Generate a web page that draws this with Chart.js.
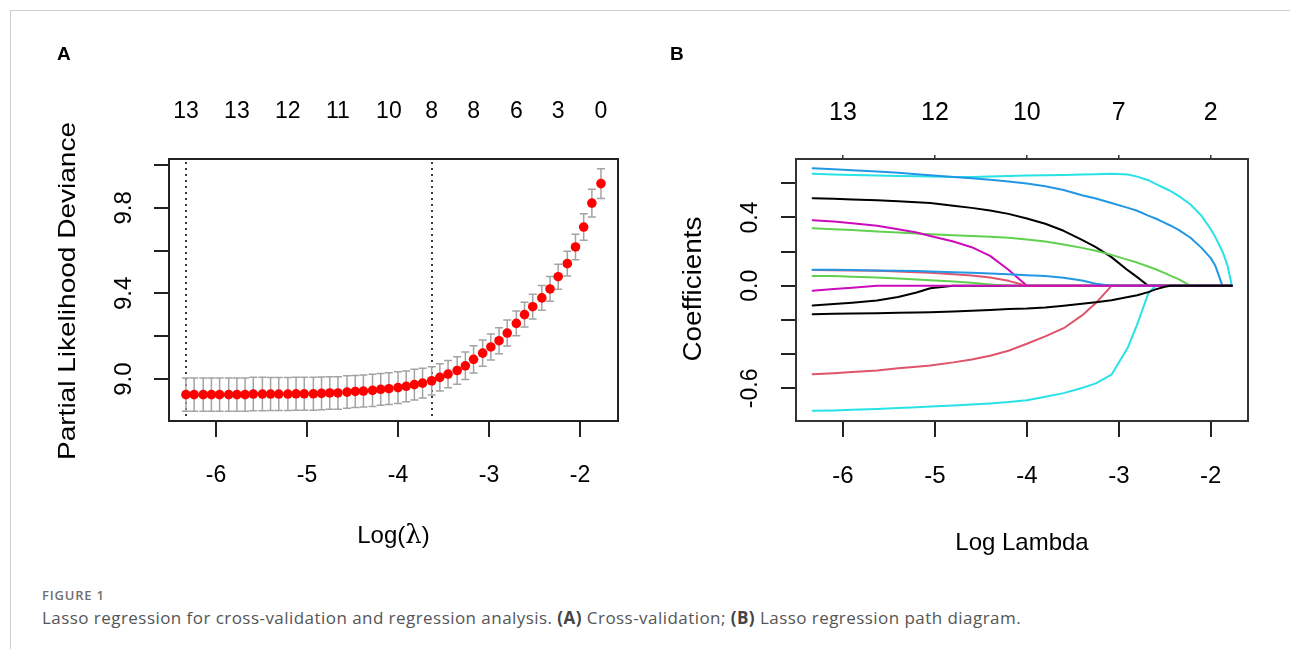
<!DOCTYPE html>
<html><head><meta charset="utf-8">
<script src="https://cdn.jsdelivr.net/npm/chart.js@4.4.1/dist/chart.umd.min.js"></script>
<style>
html,body{margin:0;padding:0;background:#fff;width:1290px;height:649px;overflow:hidden;position:relative;}
#frame{position:absolute;left:10px;top:10px;width:1300px;height:660px;border-left:1px solid #cfcfcf;border-top:1px solid #cfcfcf;}
canvas{position:absolute;top:0;}
#cA{left:0}
#cB{left:645px}
.lab{position:absolute;font:bold 19px "Liberation Sans",Arial,sans-serif;color:#000;line-height:19px}
#fig{position:absolute;left:42px;top:587px;font:600 13px "Open Sans",sans-serif;color:#707070;line-height:17px;letter-spacing:0.8px}
#cap{position:absolute;left:42px;top:606px;font:17px "Open Sans",sans-serif;color:#555;line-height:23px;white-space:nowrap;letter-spacing:0.45px}
#cap b{font-weight:700;color:#444}
</style></head>
<body>
<div id="frame"></div>
<canvas id="cA" width="645" height="580"></canvas>
<canvas id="cB" width="645" height="580"></canvas>
<div class="lab" style="left:57px;top:44px">A</div>
<div class="lab" style="left:670px;top:44px">B</div>
<div id="fig">FIGURE 1</div>
<div id="cap">Lasso regression for cross-validation and regression analysis. <b>(A)</b> Cross-validation; <b>(B)</b> Lasso regression path diagram.</div>
<script>
// ---------------- Panel A data (cross-validation) ----------------
const cvLogLambda = [-6.33,-6.24,-6.14,-6.05,-5.96,-5.86,-5.77,-5.68,-5.59,-5.49,
  -5.40,-5.31,-5.21,-5.12,-5.03,-4.93,-4.84,-4.75,-4.66,-4.56,
  -4.47,-4.38,-4.28,-4.19,-4.10,-4.00,-3.91,-3.82,-3.73,-3.63,
  -3.54,-3.45,-3.35,-3.26,-3.17,-3.07,-2.98,-2.89,-2.80,-2.70,
  -2.61,-2.52,-2.42,-2.33,-2.24,-2.14,-2.05,-1.96,-1.87,-1.77];
const cvMean = [8.927,8.927,8.927,8.927,8.927,8.927,8.927,8.927,8.930,8.930,
  8.930,8.930,8.930,8.931,8.931,8.931,8.933,8.935,8.935,8.939,
  8.942,8.944,8.947,8.952,8.955,8.960,8.966,8.974,8.981,8.992,
  9.008,9.023,9.040,9.062,9.092,9.121,9.150,9.179,9.215,9.260,
  9.301,9.338,9.379,9.421,9.478,9.539,9.617,9.710,9.822,9.913];
const cvSD = [0.078,0.078,0.078,0.078,0.078,0.078,0.078,0.078,0.078,0.078,
  0.077,0.077,0.077,0.077,0.077,0.077,0.076,0.076,0.076,0.076,
  0.075,0.075,0.075,0.074,0.074,0.074,0.072,0.072,0.069,0.066,
  0.064,0.064,0.064,0.064,0.064,0.061,0.061,0.061,0.061,0.058,
  0.058,0.058,0.058,0.058,0.058,0.058,0.060,0.062,0.065,0.070];
const lambdaMinLog = -6.33;
const lambda1seLog = -3.63;
const cvTopPos = [-6.33,-5.77,-5.21,-4.66,-4.10,-3.63,-3.17,-2.70,-2.24,-1.77];
const cvTopLabels = ['13','13','12','11','10','8','8','6','3','0'];
const cvXTicks = [-6,-5,-4,-3,-2];
const cvYTicks = [9.0,9.2,9.4,9.6,9.8,10.0];
const cvYLabels = [9.0,9.4,9.8];

// ---------------- Panel B data (coefficient paths) ----------------
const pathLogLambda = [-6.33,-6.1,-5.9,-5.63,-5.4,-5.2,-5.05,-4.8,-4.6,-4.4,
  -4.2,-4.0,-3.8,-3.6,-3.4,-3.25,-3.08,-2.9,-2.8,-2.68,
  -2.6,-2.5,-2.44,-2.35,-2.22,-2.1,-2.0,-1.95,-1.873,-1.82,-1.77];
const coefBlueTop = [0.688,0.682,0.676,0.669,0.661,0.653,0.647,0.637,0.630,0.620,
  0.610,0.598,0.583,0.561,0.530,0.511,0.485,0.456,0.439,0.411,
  0.394,0.368,0.353,0.327,0.281,0.222,0.162,0.117,0,0,0];
const coefCyanTop = [0.655,0.651,0.649,0.645,0.643,0.641,0.639,0.637,0.637,0.639,
  0.643,0.645,0.647,0.649,0.651,0.653,0.655,0.651,0.639,0.618,
  0.596,0.571,0.556,0.526,0.476,0.409,0.331,0.285,0.201,0.123,0];
const coefBlackTop = [0.513,0.509,0.505,0.501,0.495,0.489,0.485,0.468,0.456,0.441,
  0.421,0.394,0.363,0.322,0.269,0.226,0.168,0.090,0.051,0,
  0,0,0,0,0,0,0,0,0,0,0];
const coefMagentaTop = [0.384,0.376,0.366,0.351,0.331,0.312,0.292,0.259,0.226,0.175,
  0.094,0,0,0,0,0,0,0,0,0,
  0,0,0,0,0,0,0,0,0,0,0];
const coefGreenTop = [0.337,0.331,0.326,0.318,0.312,0.306,0.302,0.296,0.292,0.287,
  0.281,0.271,0.259,0.242,0.222,0.205,0.181,0.152,0.136,0.113,
  0.097,0.074,0.060,0.039,0,0,0,0,0,0,0];
const coefBlueSmall = [0.094,0.094,0.092,0.090,0.088,0.086,0.084,0.080,0.076,0.072,
  0.068,0.062,0.057,0.047,0.031,0.012,0,0,0,0,
  0,0,0,0,0,0,0,0,0,0,0];
const coefGreenSmall = [0.058,0.057,0.053,0.049,0.043,0.037,0.033,0.025,0.018,0.008,
  0,0,0,0,0,0,0,0,0,0,
  0,0,0,0,0,0,0,0,0,0,0];
const coefRedSmall = [0.092,0.091,0.090,0.088,0.084,0.080,0.076,0.068,0.060,0.049,
  0.029,0,0,0,0,0,0,0,0,0,
  0,0,0,0,0,0,0,0,0,0,0];
const coefMagentaSmall = [-0.029,-0.019,-0.012,0,0,0,0,0,0,0,
  0,0,0,0,0,0,0,0,0,0,
  0,0,0,0,0,0,0,0,0,0,0];
const coefBlackMid = [-0.115,-0.107,-0.099,-0.086,-0.066,-0.039,-0.014,0,0,0,
  0,0,0,0,0,0,0,0,0,0,
  0,0,0,0,0,0,0,0,0,0,0];
const coefBlackLow = [-0.166,-0.164,-0.162,-0.160,-0.158,-0.156,-0.154,-0.150,-0.146,-0.142,
  -0.136,-0.133,-0.127,-0.117,-0.105,-0.096,-0.084,-0.066,-0.055,-0.037,
  -0.021,-0.006,0,0,0,0,0,0,0,0,0];
const coefRedLow = [-0.517,-0.511,-0.505,-0.495,-0.483,-0.474,-0.466,-0.448,-0.431,-0.409,
  -0.380,-0.339,-0.296,-0.248,-0.173,-0.101,0,0,0,0,
  0,0,0,0,0,0,0,0,0,0,0];
const coefCyanLow = [-0.731,-0.729,-0.725,-0.721,-0.715,-0.710,-0.706,-0.700,-0.694,-0.688,
  -0.680,-0.669,-0.649,-0.628,-0.598,-0.571,-0.520,-0.359,-0.226,-0.045,
  0,0,0,0,0,0,0,0,0,0,0];
const pathXTicks = [-6,-5,-4,-3,-2];
const pathTopLabels = ['13','12','10','7','2'];
const pathYTicks = [-0.6,-0.4,-0.2,0,0.2,0.4,0.6];
const pathYLabels = [-0.6,0.0,0.4];

// ---------------- helpers ----------------
const SANS = '"Liberation Sans", Arial, sans-serif';
function setTicks(vals){ return function(scale){ scale.ticks = vals.map(v => ({value: v})); }; }
function setSize(dim, v){ return function(scale){ scale[dim] = v; }; }
function drawRotated(ctx, text, cx, cy, font, targetLen){
  ctx.save();
  ctx.font = font; ctx.fillStyle = '#000'; ctx.textAlign = 'center'; ctx.textBaseline = 'middle';
  ctx.translate(cx, cy); ctx.rotate(-Math.PI/2);
  if (targetLen) { const w = ctx.measureText(text).width; ctx.scale(targetLen / w, 1); }
  ctx.fillText(text, 0, 0);
  ctx.restore();
}
function drawBox(chart, color){
  const {ctx, chartArea: a} = chart;
  ctx.save(); ctx.strokeStyle = color; ctx.lineWidth = 2;
  ctx.strokeRect(a.left, a.top, a.right - a.left, a.bottom - a.top);
  ctx.restore();
}
function yLabels(chart, vals, cx, font){
  const y = chart.scales.y;
  vals.forEach(v => drawRotated(chart.ctx, v.toFixed(1), cx, y.getPixelForValue(v), font));
}

// ---------------- Panel A ----------------
const W = 645, H = 580;
const A = {left:169, right:618, top:159, bottom:421};
const panelAPlugin = {
  id: 'panelA',
  beforeDatasetsDraw(chart){
    const {ctx, chartArea: a, scales: {x, y}} = chart;
    ctx.save();
    ctx.strokeStyle = '#3a3a3a'; ctx.lineWidth = 2; ctx.setLineDash([2, 4]);
    [lambdaMinLog, lambda1seLog].forEach(v => {
      const px = Math.round(x.getPixelForValue(v));
      ctx.beginPath(); ctx.moveTo(px, a.top + 3); ctx.lineTo(px, a.bottom); ctx.stroke();
    });
    ctx.setLineDash([]);
    ctx.strokeStyle = '#a3a3a3'; ctx.lineWidth = 1.5;
    cvLogLambda.forEach((lx, i) => {
      const px = x.getPixelForValue(lx);
      const hi = y.getPixelForValue(cvMean[i] + cvSD[i]);
      const lo = y.getPixelForValue(cvMean[i] - cvSD[i]);
      ctx.beginPath();
      ctx.moveTo(px, hi); ctx.lineTo(px, lo);
      ctx.moveTo(px - 4, hi); ctx.lineTo(px + 4, hi);
      ctx.moveTo(px - 4, lo); ctx.lineTo(px + 4, lo);
      ctx.stroke();
    });
    ctx.restore();
  },
  afterDraw(chart){
    const ctx = chart.ctx;
    drawBox(chart, '#222');
    yLabels(chart, cvYLabels, 124, '24px ' + SANS);
    drawRotated(ctx, 'Partial Likelihood Deviance', 68, 291, '24px ' + SANS, 338);
    // x title: Log(λ)
    const cx = (chart.chartArea.left + chart.chartArea.right) / 2, cy = 536;
    const parts = [['Log(', '24px ' + SANS], ['\u03bb', '26px "DejaVu Serif", "Liberation Serif", serif'], [')', '24px ' + SANS]];
    ctx.save(); ctx.fillStyle = '#000'; ctx.textBaseline = 'middle'; ctx.textAlign = 'left';
    let total = 0; parts.forEach(p => { ctx.font = p[1]; total += ctx.measureText(p[0]).width; });
    let xx = cx - total / 2;
    parts.forEach(p => { ctx.font = p[1]; ctx.fillText(p[0], xx, cy); xx += ctx.measureText(p[0]).width; });
    ctx.restore();
  }
};

new Chart(document.getElementById('cA'), {
  type: 'scatter',
  data: { datasets: [{
    data: cvLogLambda.map((v, i) => ({x: v, y: cvMean[i]})),
    pointRadius: 4.8, pointBackgroundColor: '#ff0000', pointBorderWidth: 0, showLine: false
  }]},
  options: {
    responsive: false, animation: false, events: [], devicePixelRatio: 1,
    layout: { padding: {left: 0, top: 0, right: W - A.right, bottom: 0} },
    plugins: { legend: {display: false}, tooltip: {enabled: false} },
    scales: {
      x: { type: 'linear', position: 'bottom', min: -6.516, max: -1.583,
        afterBuildTicks: setTicks(cvXTicks), afterFit: setSize('height', H - A.bottom),
        border: {display: false},
        grid: {drawOnChartArea: false, drawTicks: true, tickLength: 16, color: '#222', lineWidth: 2},
        ticks: {autoSkip: false, maxRotation: 0, padding: 25, color: '#000', font: {family: SANS, size: 23},
          callback: v => String(v)} },
      x2: { type: 'linear', position: 'top', min: -6.516, max: -1.583,
        afterBuildTicks: setTicks(cvTopPos), afterFit: setSize('height', A.top),
        border: {display: false}, grid: {display: false, drawTicks: false},
        ticks: {autoSkip: false, maxRotation: 0, padding: 34, color: '#000', font: {family: SANS, size: 23},
          callback: (v, i) => cvTopLabels[i]} },
      y: { type: 'linear', position: 'left', min: 8.804, max: 10.028,
        afterBuildTicks: setTicks(cvYTicks), afterFit: setSize('width', A.left),
        border: {display: false},
        grid: {drawOnChartArea: false, drawTicks: true, tickLength: 15, color: '#222', lineWidth: 2},
        ticks: {display: false} }
    }
  },
  plugins: [panelAPlugin]
});

// ---------------- Panel B ----------------
const B = {left:151, right:603, top:159, bottom:421};
const pathSeries = [
  [coefBlackLow, '#000000'],
  [coefMagentaSmall, '#CD0BBC'],
  [coefBlueSmall, '#2297E6'],
  [coefRedSmall, '#DF536B'],
  [coefGreenSmall, '#61D04F'],
  [coefBlackMid, '#000000'],
  [coefCyanLow, '#28E2E5'],
  [coefRedLow, '#DF536B'],
  [coefMagentaTop, '#CD0BBC'],
  [coefGreenTop, '#61D04F'],
  [coefBlackTop, '#000000'],
  [coefBlueTop, '#2297E6'],
  [coefCyanTop, '#28E2E5']
];
const panelBPlugin = {
  id: 'panelB',
  afterDraw(chart){
    const ctx = chart.ctx;
    drawBox(chart, '#333');
    yLabels(chart, pathYLabels, 106, '23px ' + SANS);
    drawRotated(ctx, 'Coefficients', 49, 289, '25px ' + SANS, 145);
    ctx.save(); ctx.fillStyle = '#000'; ctx.font = '24px ' + SANS; ctx.textAlign = 'center'; ctx.textBaseline = 'middle';
    ctx.fillText('Log Lambda', (chart.chartArea.left + chart.chartArea.right) / 2, 543);
    ctx.restore();
  }
};
new Chart(document.getElementById('cB'), {
  type: 'scatter',
  data: { datasets: pathSeries.map(s => ({
    data: pathLogLambda.map((v, i) => ({x: v, y: s[0][i]})),
    showLine: true, pointRadius: 0, borderWidth: 2, borderColor: s[1], tension: 0,
    borderJoinStyle: 'round', borderCapStyle: 'round'
  }))},
  options: {
    responsive: false, animation: false, events: [], devicePixelRatio: 1,
    layout: { padding: {left: 0, top: 0, right: W - B.right, bottom: 0} },
    plugins: { legend: {display: false}, tooltip: {enabled: false} },
    scales: {
      x: { type: 'linear', position: 'bottom', min: -6.511, max: -1.595,
        afterBuildTicks: setTicks(pathXTicks), afterFit: setSize('height', H - B.bottom),
        border: {display: false},
        grid: {drawOnChartArea: false, drawTicks: true, tickLength: 16, color: '#222', lineWidth: 2},
        ticks: {autoSkip: false, maxRotation: 0, padding: 25, color: '#000', font: {family: SANS, size: 24},
          callback: v => String(v)} },
      x2: { type: 'linear', position: 'top', min: -6.511, max: -1.595,
        afterBuildTicks: setTicks(pathXTicks), afterFit: setSize('height', B.top),
        border: {display: false},
        grid: {drawOnChartArea: false, drawTicks: true, tickLength: 4, color: '#333', lineWidth: 1.5},
        ticks: {autoSkip: false, maxRotation: 0, padding: 27, color: '#000', font: {family: SANS, size: 25},
          callback: (v, i) => pathTopLabels[i]} },
      y: { type: 'linear', position: 'left', min: -0.791, max: 0.742,
        afterBuildTicks: setTicks(pathYTicks), afterFit: setSize('width', B.left),
        border: {display: false},
        grid: {drawOnChartArea: false, drawTicks: true, tickLength: 15, color: '#222', lineWidth: 2},
        ticks: {display: false} }
    }
  },
  plugins: [panelBPlugin]
});
</script>
</body></html>
